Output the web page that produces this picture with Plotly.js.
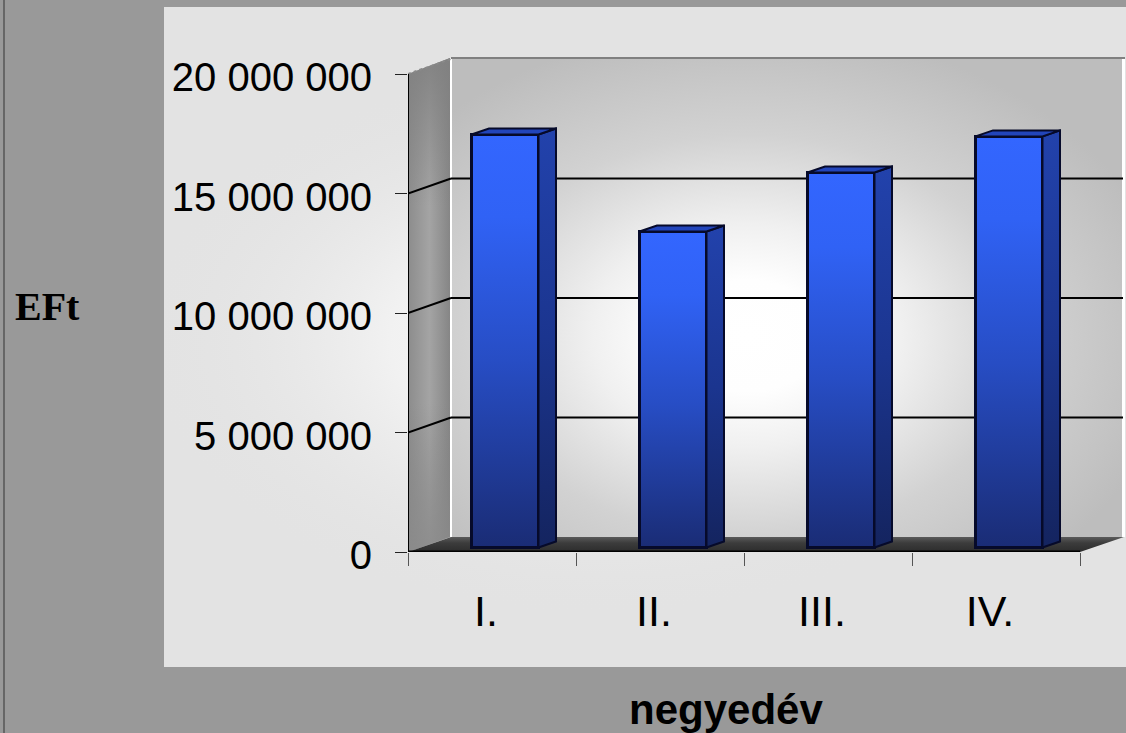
<!DOCTYPE html>
<html>
<head>
<meta charset="utf-8">
<script src="https://cdn.plot.ly/plotly-3.0.1.min.js"></script>
<style>html,body{margin:0;padding:0;background:#999;overflow:hidden}#chart{width:1126px;height:733px}</style>
</head>
<body>
<div id="chart"></div>
<script>
const categories = ["I.", "II.", "III.", "IV."];
const quarterValues = [17280000, 13220000, 15690000, 17200000];
const yTicks = [0, 5000000, 10000000, 15000000, 20000000];
const yTitle = "EFt";
const xTitle = "negyedév";

/* page geometry in pixels */
const W = 1126, H = 733, L = 408, T = 58, ZERO = 552, UX = 168, UY = 478 / 20000000;
const R = 1080, WDX = 43, WDY = 15;
const plotW = W - L, plotH = ZERO - T;
const dX = p => p / UX, dY = p => p / UY;
const indices = categories.map((_, i) => i);

function backdrop() {
  const c = document.createElement('canvas'); c.width = W; c.height = H;
  const g = c.getContext('2d');
  g.fillStyle = '#999999'; g.fillRect(0, 0, W, H);
  g.fillStyle = '#666666'; g.fillRect(3, 0, 2, H);
  // panel
  const px = 164, py = 7, pw = W - 164, ph = 660;
  g.fillStyle = '#e3e3e3'; g.fillRect(px, py, pw, ph);
  g.save(); g.beginPath(); g.rect(px, py, pw, ph); g.clip();
  g.translate(600, 340); g.scale(1, 0.6);
  let rg = g.createRadialGradient(0, 0, 0, 0, 0, 460);
  rg.addColorStop(0, 'rgba(248,248,248,1)'); rg.addColorStop(0.45, 'rgba(243,243,243,.9)'); rg.addColorStop(1, 'rgba(227,227,227,0)');
  g.fillStyle = rg; g.fillRect(-800, -800, 1600, 1600); g.restore();
  // back wall
  const bx = L + WDX, by = T, bw = 1123 - bx, bh = ZERO - WDY - T;
  g.save(); g.beginPath(); g.rect(bx, by, bw, bh); g.clip();
  g.translate(bx + bw * 0.44, by + bh * 0.58); g.scale(1, 0.72);
  rg = g.createRadialGradient(0, 0, 0, 0, 0, 430);
  rg.addColorStop(0, '#ffffff'); rg.addColorStop(0.18, '#fefefe'); rg.addColorStop(0.36, '#f0f0f0'); rg.addColorStop(0.65, '#d2d2d2'); rg.addColorStop(1, '#bdbdbd');
  g.fillStyle = rg; g.fillRect(-900, -900, 1800, 1800); g.restore();
  g.fillStyle = '#ffffff'; g.fillRect(bx - 1, by, 2, bh); g.fillRect(1122, by, 3, bh);
  g.fillStyle = '#808080'; g.fillRect(bx, by - 1, 1125 - bx, 2);
  // left wall
  g.save(); g.beginPath();
  g.moveTo(L, 74); g.lineTo(bx - 1, T); g.lineTo(bx - 1, ZERO - WDY); g.lineTo(L, ZERO); g.closePath(); g.clip();
  let lg = g.createLinearGradient(L, 0, bx, 0);
  lg.addColorStop(0, '#8c8c8c'); lg.addColorStop(0.5, '#a4a4a4'); lg.addColorStop(1, '#848484');
  g.fillStyle = lg; g.fillRect(L, T, WDX, ZERO - T);
  lg = g.createLinearGradient(0, T, 0, ZERO);
  lg.addColorStop(0, 'rgba(128,128,128,.9)'); lg.addColorStop(0.3, 'rgba(128,128,128,0)');
  lg.addColorStop(0.7, 'rgba(128,128,128,0)'); lg.addColorStop(1, 'rgba(138,138,138,.85)');
  g.fillStyle = lg; g.fillRect(L, T, WDX, ZERO - T); g.restore();
  // floor
  lg = g.createLinearGradient(0, ZERO - WDY, 0, ZERO);
  lg.addColorStop(0, '#5a5a5a'); lg.addColorStop(0.4, '#3c3c3c'); lg.addColorStop(1, '#2c2c2c');
  g.fillStyle = lg; g.beginPath();
  g.moveTo(L, ZERO); g.lineTo(bx, ZERO - WDY); g.lineTo(1124, ZERO - WDY); g.lineTo(R, ZERO); g.closePath(); g.fill();
  return c.toDataURL('image/png');
}

/* bars stand in the middle of the floor depth */
const barWidth = 67 / UX, barShift = dX(13), barBase = dY(4.5);
const depthX = dX(17.5), depthY = dY(6);
const edge = '#060a2a';

const traces = [{
  type: 'bar', x: indices, y: quarterValues, base: barBase, width: barWidth,
  offset: barShift - barWidth / 2, text: categories, textposition: 'none',
  marker: { color: '#2a50c8', line: { color: edge, width: 3 } }, cliponaxis: false, hoverinfo: 'y+text'
}];
quarterValues.forEach((v, i) => {
  const r = i + barShift + barWidth / 2, l = r - barWidth, top = v + barBase;
  traces.push({
    type: 'scatter', mode: 'lines', hoverinfo: 'skip', fill: 'toself',
    x: [r, r + depthX, r + depthX, r, r],
    y: [barBase, barBase + depthY, top + depthY, top, barBase],
    line: { color: edge, width: 2 },
    fillgradient: { type: 'vertical', colorscale: [[0, '#14245f'], [0.5, '#1b358f'], [1, '#2242ac']] }
  });
  traces.push({
    type: 'scatter', mode: 'lines', hoverinfo: 'skip', fill: 'toself', fillcolor: '#2245bb',
    x: [l, r, r + depthX, l + depthX, l],
    y: [top, top, top + depthY, top + depthY, top],
    line: { color: edge, width: 2 }
  });
});
/* axis lines */
const x0 = -0.5, x1 = categories.length - 0.5, yMax = yTicks[yTicks.length - 1];
traces.push({ type: 'scatter', mode: 'lines', hoverinfo: 'skip', cliponaxis: false,
  x: [x0, x0], y: [0, yMax], line: { color: '#000000', width: 2 } });
traces.push({ type: 'scatter', mode: 'lines', hoverinfo: 'skip', cliponaxis: false,
  x: [x0, x1], y: [0, 0], line: { color: '#000000', width: 3 } });

/* wall grid lines: diagonal on the side wall, then straight along the back wall */
const shapes = [];
const wx = dX(WDX), wy = dY(WDY), xEnd = x0 + dX(1126 - L);
yTicks.slice(1).forEach(t => {
  const top = t === yMax, col = top ? '#8a8a8a' : '#000000';
  shapes.push({ type: 'line', layer: 'below', xref: 'x', yref: 'y', x0: x0, x1: x0 + wx, y0: t, y1: t + wy,
    line: { color: col, width: 2, dash: top ? 'dot' : 'solid' } });
  if (!top) shapes.push({ type: 'line', layer: 'below', xref: 'x', yref: 'y', x0: x0 + wx, x1: x0 + dX(1123 - L), y0: t + wy, y1: t + wy,
    line: { color: col, width: 2 } });
});

const layout = {
  width: W, height: H, autosize: false, showlegend: false,
  margin: { l: L, r: 0, t: T, b: H - ZERO, pad: 0 },
  paper_bgcolor: 'rgba(0,0,0,0)', plot_bgcolor: 'rgba(0,0,0,0)',
  font: { family: 'Liberation Sans, Arial, sans-serif', color: '#000000', size: 40 },
  xaxis: {
    type: 'linear', range: [x0, xEnd], showgrid: false, zeroline: false, showline: false,
    tickmode: 'array', tickvals: indices, ticktext: categories, ticks: '',
    ticklabelstandoff: 30, ticklabelshift: -6, tickfont: { size: 43 },
    minor: { tickmode: 'array', tickvals: indices.concat(categories.length).map(i => i - 0.5), ticks: 'outside', ticklen: 13, tickwidth: 1, tickcolor: '#555555', showgrid: false }
  },
  yaxis: {
    type: 'linear', range: [0, dY(ZERO - T)], showgrid: false, zeroline: false, showline: false,
    tickmode: 'array', tickvals: yTicks, tickformat: ',', ticks: 'outside', ticklen: 12, tickwidth: 1, tickcolor: '#222222',
    ticklabelstandoff: 15, ticklabelshift: 3, tickfont: { size: 40 }
  },
  separators: '. ',
  shapes: shapes,
  images: [{ source: backdrop(), xref: 'paper', yref: 'paper', x: -L / plotW, y: ZERO / plotH,
    sizex: W / plotW, sizey: H / plotH, sizing: 'stretch', xanchor: 'left', yanchor: 'top', layer: 'below' }],
  annotations: [
    { text: yTitle, xref: 'paper', yref: 'paper', x: (47 - L) / plotW, y: (ZERO - 306) / plotH, showarrow: false,
      xanchor: 'center', yanchor: 'middle', font: { family: 'Liberation Serif, serif', size: 40, color: '#000000', weight: 'bold' } },
    { text: xTitle, xref: 'paper', yref: 'paper', x: (726 - L) / plotW, y: (ZERO - 709) / plotH, showarrow: false,
      xanchor: 'center', yanchor: 'middle', font: { family: 'Liberation Sans, Arial, sans-serif', size: 42, color: '#000000', weight: 'bold' } }
  ]
};

Plotly.newPlot('chart', traces, layout, { displayModeBar: false, staticPlot: true }).then(gd => {
  /* front faces: vertical blue fade on the library's own bar paths */
  const svg = gd.querySelector('svg.main-svg');
  const ns = 'http://www.w3.org/2000/svg';
  const defs = svg.querySelector('defs') || svg.insertBefore(document.createElementNS(ns, 'defs'), svg.firstChild);
  const grad = document.createElementNS(ns, 'linearGradient');
  grad.setAttribute('id', 'barFront'); grad.setAttribute('x1', '0'); grad.setAttribute('y1', '0'); grad.setAttribute('x2', '0'); grad.setAttribute('y2', '1');
  [[0, '#3366ff'], [0.2, '#3062f5'], [0.55, '#274dc4'], [1, '#1a2c75']].forEach(s => {
    const st = document.createElementNS(ns, 'stop');
    st.setAttribute('offset', s[0]); st.setAttribute('stop-color', s[1]); grad.appendChild(st);
  });
  defs.appendChild(grad);
  gd.querySelectorAll('.barlayer .point path').forEach(p => { p.style.fill = 'url(#barFront)'; });
});
</script>
</body>
</html>
